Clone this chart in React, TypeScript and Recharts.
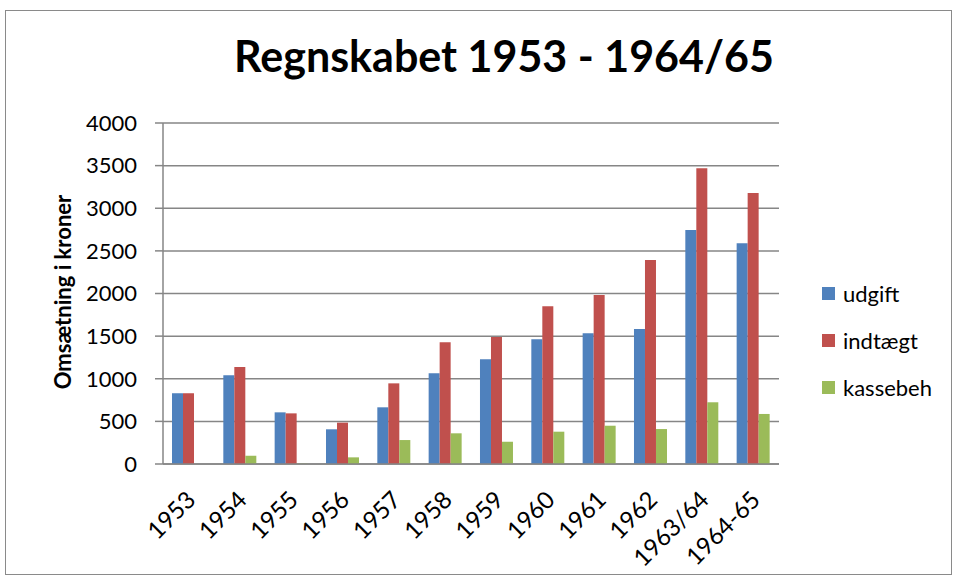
import React from "react";
import { BarChart, Bar, XAxis, YAxis, CartesianGrid } from "recharts";

const years = ["1953", "1954", "1955", "1956", "1957", "1958", "1959", "1960", "1961", "1962", "1963/64", "1964-65"];
const udgift = [830, 1040, 606, 407, 665, 1064, 1228, 1462, 1533, 1584, 2745, 2589];
const indtaegt = [830, 1138, 594, 485, 946, 1427, 1490, 1849, 1982, 2393, 3468, 3179];
const kassebeh = [0, 97, 5, 78, 281, 360, 262, 379, 449, 410, 724, 587];
const yTicks = [0, 500, 1000, 1500, 2000, 2500, 3000, 3500, 4000];

const series = [
  { key: "udgift", name: "udgift", color: "#4F81BD" },
  { key: "indtaegt", name: "indtægt", color: "#C0504D" },
  { key: "kassebeh", name: "kassebeh", color: "#9BBB59" },
];

const data = years.map((year, i) => ({
  year,
  udgift: udgift[i],
  indtaegt: indtaegt[i],
  kassebeh: kassebeh[i],
}));

const FONT = "Lato, 'Open Sans', sans-serif";

function XTick(props: any) {
  const { x, y, payload } = props;
  const ax = x - 3;
  const ay = y + 18;
  return (
    <text
      x={ax}
      y={ay}
      dy={16}
      textAnchor="end"
      transform={`rotate(-45, ${ax}, ${ay})`}
      fontFamily={FONT}
      fontSize={24}
      fill="#000"
    >
      {payload.value}
    </text>
  );
}

function LegendBox() {
  return (
    <div style={{ fontFamily: FONT, fontSize: 22, color: "#000" }}>
      {series.map((s) => (
        <div key={s.key} style={{ display: "flex", alignItems: "center", height: 47 }}>
          <span style={{ width: 13, height: 13, background: s.color, marginRight: 8, display: "inline-block" }} />
          <span>{s.name}</span>
        </div>
      ))}
    </div>
  );
}

export default function App() {
  return (
    <div style={{ position: "absolute", left: 0, top: 0, width: 957, height: 581, background: "#fff" }}>
      <div
        style={{
          position: "absolute",
          left: 5,
          top: 10,
          width: 945,
          height: 563,
          border: "1.5px solid #8a8a8a",
        }}
      />
      <div
        style={{
          position: "absolute",
          left: 0,
          width: 1008,
          top: 30,
          textAlign: "center",
          fontFamily: FONT,
          fontWeight: 700,
          fontSize: 43,
          color: "#000",
        }}
      >
        Regnskabet 1953 - 1964/65
      </div>
      <div
        style={{
          position: "absolute",
          left: 62,
          top: 292,
          transform: "translate(-50%, -50%) rotate(-90deg)",
          whiteSpace: "nowrap",
          fontFamily: FONT,
          fontWeight: 700,
          fontSize: 22,
          color: "#000",
        }}
      >
        Omsætning i kroner
      </div>
      <div style={{ position: "absolute", left: 822, top: 270 }}>
        <LegendBox />
      </div>
      <div style={{ position: "absolute", left: 0, top: 0 }}>
        <BarChart
          width={957}
          height={581}
          data={data}
          margin={{ top: 123, right: 178, bottom: 87, left: 0 }}
          barCategoryGap="17.5%"
          barGap={0}
        >
          <CartesianGrid vertical={false} stroke="#868686" strokeWidth={1.5} />
          <XAxis
            dataKey="year"
            height={30}
            interval={0}
            tickLine={false}
            axisLine={{ stroke: "#868686", strokeWidth: 1.5 }}
            tick={<XTick />}
          />
          <YAxis
            width={163}
            domain={[0, 4000]}
            ticks={yTicks}
            interval={0}
            tickSize={8}
            tickMargin={18}
            tickLine={{ stroke: "#868686", strokeWidth: 1.5 }}
            axisLine={{ stroke: "#868686", strokeWidth: 1.5 }}
            tick={{ fontFamily: FONT, fontSize: 22, fill: "#000" }}
          />
          {series.map((s) => (
            <Bar key={s.key} dataKey={s.key} name={s.name} fill={s.color} isAnimationActive={false} />
          ))}
        </BarChart>
      </div>
    </div>
  );
}
